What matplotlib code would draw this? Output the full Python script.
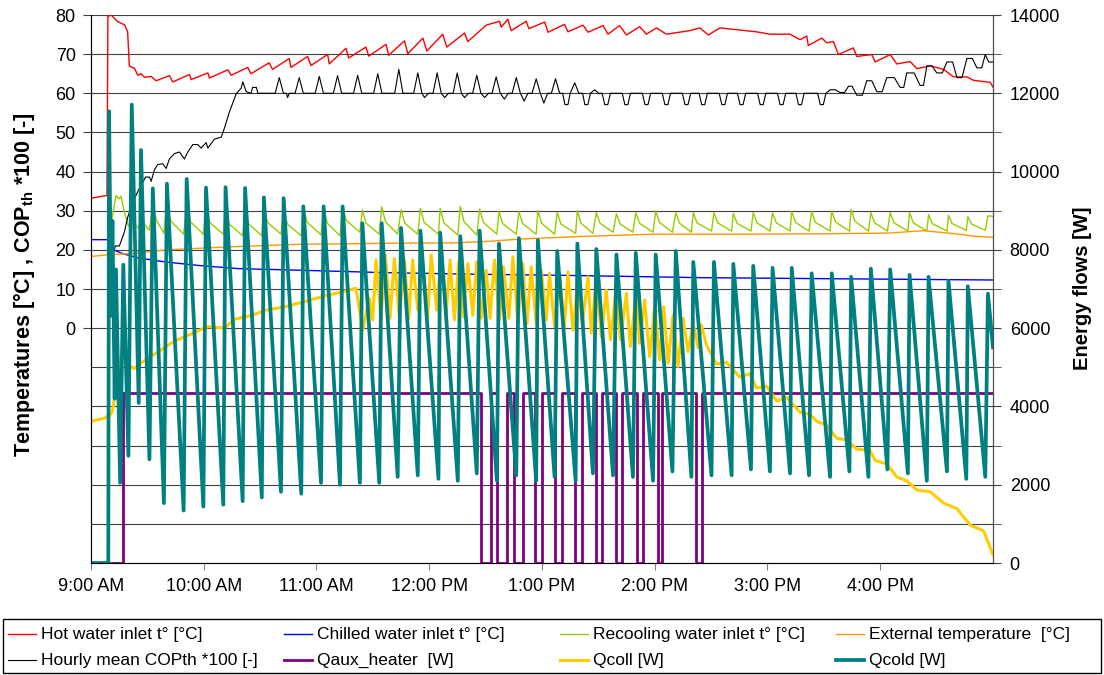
import matplotlib.pyplot as plt
from matplotlib.lines import Line2D
from matplotlib.patches import Rectangle

plt.rcParams['font.family'] = ['Liberation Sans', 'DejaVu Sans']
plt.rcParams['mathtext.fontset'] = 'custom'
plt.rcParams['mathtext.rm'] = 'Liberation Sans'
plt.rcParams['mathtext.bf'] = 'Liberation Sans:bold'

# all times are minutes after 9:00 AM

# Hot water inlet t° [°C]
hot_t = [0, 8.5, 9.0, 10.7, 14.2, 17.8, 19.5, 20.4, 23.1, 24.9,
         26.6, 28.4, 32.0, 34.6, 41.7, 43.5, 52.4, 53.3, 62.2, 63.0,
         72.8, 74.6, 83.4, 85.1, 94.8, 96.6, 105.5, 106.4, 115.3, 117.0,
         125.9, 126.8, 135.7, 137.1, 146.3, 147.8, 157.0, 158.4, 166.8, 168.6,
         176.6, 178.7, 187.2, 189.3, 198.8, 200.5, 210.3, 217.4, 218.3, 221.8,
         223.6, 231.6, 233.0, 241.4, 243.2, 252.0, 253.8, 261.8, 264.5, 272.5,
         275.1, 281.3, 284.9, 292.0, 295.6, 300.9, 306.2, 318.6, 324.0, 328.5,
         334.7, 354.2, 361.3, 372.0, 377.3, 380.9, 381.7, 388.9, 391.5, 395.1,
         397.7, 405.7, 407.5, 415.5, 417.3, 425.3, 428.8, 435.9, 439.5, 446.6,
         453.7, 459.0, 466.1, 469.7, 478.5, 480.0]
hot_v = [33.2, 33.9, 79.6, 80.0, 78.3, 77.5, 75.7, 66.9, 66.4, 64.6,
         65.0, 64.1, 64.3, 63.2, 64.5, 62.9, 64.8, 63.5, 65.2, 63.9,
         66.0, 64.6, 66.6, 65.0, 67.8, 66.1, 68.9, 66.6, 69.4, 67.1,
         69.9, 67.5, 71.5, 69.0, 71.8, 69.5, 72.5, 69.7, 73.4, 70.1,
         74.1, 70.8, 75.1, 71.8, 75.4, 73.2, 77.4, 78.4, 76.9, 78.9,
         76.0, 78.4, 76.5, 78.2, 75.6, 77.6, 75.7, 77.4, 75.6, 77.3,
         75.1, 77.3, 74.9, 77.0, 75.1, 76.7, 75.1, 76.0, 76.7, 74.9,
         76.7, 75.7, 75.1, 75.1, 73.7, 74.6, 72.2, 74.1, 72.9, 73.2,
         69.9, 71.6, 69.4, 69.9, 68.0, 69.9, 67.5, 68.1, 66.3, 67.0,
         66.1, 64.2, 64.2, 63.3, 62.8, 61.6]

# Chilled water inlet t° [°C]
chill_t = [0, 9.0, 9.5, 13.0, 17.0, 25.6, 39.8, 57.5, 78.8, 110.8, 155.0, 200.0, 250.0, 324.0, 400.0, 480.0]
chill_v = [22.6, 22.6, 20.5, 19.8, 19.0, 17.9, 16.9, 16.0, 15.2, 14.8, 14.2, 13.8, 13.5, 12.9, 12.6, 12.3]

# External temperature [°C]
ext_t = [0, 10, 20, 40, 75, 110, 160, 195, 212, 230, 265, 300, 340, 390, 425, 443, 460, 470, 480]
ext_v = [18.3, 18.8, 19.0, 20.0, 20.8, 21.4, 21.7, 21.8, 22.2, 22.8, 23.5, 24.0, 24.0, 24.1, 24.3, 24.9, 24.1, 23.5, 23.2]

# Hourly mean COPth *100 [-]
cop_t = [12.4, 13.0, 15.1, 17.8, 19.5, 22.2, 24.9, 27.5, 29.0, 31.1,
         32.0, 33.7, 35.5, 38.2, 40.0, 41.7, 44.4, 47.1, 49.7, 51.5,
         54.2, 56.8, 58.6, 61.3, 62.2, 65.7, 69.3, 71.0, 73.7, 77.3,
         79.9, 80.8, 82.6, 85.2, 86.0, 88.0, 88.8,
         98.0, 100.2, 102.4, 104.0, 104.6, 105.5, 108.6, 110.8, 113.0, 119.3,
         121.5, 123.7, 129.0, 131.2, 133.4, 139.7, 141.9, 144.1, 150.4, 152.6,
         154.8, 161.6, 163.8, 166.0, 171.7, 173.9, 176.1, 177.5, 179.5, 182.0,
         184.2, 186.4, 188.2, 190.2, 192.7, 194.9, 197.1, 198.8, 200.8, 203.1,
         205.3, 207.5, 209.5, 211.5, 213.4, 215.6, 217.8, 220.0, 222.0, 224.1,
         226.3, 228.5, 230.5, 232.5, 234.7, 236.9, 239.1, 241.0, 243.0, 245.0,
         247.2, 249.4,
         251.0, 252.2, 253.8, 255.0, 257.4, 259.6, 261.6, 262.8, 264.4, 265.8,
         268.0, 270.2, 272.0, 273.4, 275.0, 276.4, 282.7, 284.1, 285.7, 287.1,
         293.4, 294.8, 296.4, 297.8, 304.0, 305.4, 307.0, 308.4, 314.7, 316.1,
         317.7, 319.1, 323.6, 325.0, 326.6, 328.0, 334.3, 335.7, 337.3, 338.7,
         344.0, 345.4, 347.0, 348.4, 354.7, 356.1, 357.7, 359.1, 365.3, 366.7,
         368.3, 369.7, 375.1, 376.5, 378.1, 379.5, 386.7, 388.1, 389.7, 391.1,
         393.3, 396.0, 398.6, 401.0, 403.1, 405.0, 407.5, 410.5, 412.8, 415.5,
         418.2, 421.0, 423.5, 427.5, 430.6, 432.5, 434.1, 438.0, 441.2, 443.0,
         444.8, 447.5, 450.1, 453.0, 455.5, 458.5, 460.8, 463.5, 466.1, 469.0,
         471.4, 474.0, 475.9, 477.7, 480.0]
cop_v = [20.0, 21.0, 21.0, 24.6, 28.3, 32.1, 34.9, 37.2, 38.6, 38.6,
         37.5, 40.4, 41.8, 42.0, 40.8, 43.2, 44.6, 45.0, 43.2, 45.0,
         46.9, 46.9, 46.0, 47.4, 46.0, 48.3, 48.8, 51.1, 55.3, 59.9,
         61.3, 62.9, 60.4, 60.0, 61.5, 61.5, 60.0,
         60.0, 64.0, 60.0, 60.0, 58.9, 60.0, 60.0, 64.0, 60.0, 60.0,
         64.3, 60.0, 60.0, 64.5, 60.0, 60.0, 64.6, 60.0, 60.0, 65.0,
         60.0, 60.0, 66.1, 60.0, 60.0, 65.2, 60.0, 58.9, 60.0, 60.0,
         65.2, 60.0, 58.9, 60.0, 60.0, 65.2, 60.0, 58.9, 60.0, 60.0,
         64.6, 60.0, 58.9, 60.0, 60.0, 64.2, 60.0, 58.5, 60.0, 60.0,
         64.0, 60.0, 58.0, 60.0, 60.0, 63.7, 60.0, 57.5, 60.0, 60.0,
         63.7, 60.0,
         60.0, 57.1, 57.1, 60.0, 62.7, 60.0, 60.0, 57.1, 57.1, 60.0,
         60.9, 60.0, 60.0, 57.1, 57.1, 60.0, 60.0, 57.1, 57.1, 60.0,
         60.0, 57.1, 57.1, 60.0, 60.0, 57.1, 57.1, 60.0, 60.0, 57.1,
         57.1, 60.0, 60.0, 57.1, 57.1, 60.0, 60.0, 57.1, 57.1, 60.0,
         60.0, 57.1, 57.1, 60.0, 60.0, 57.1, 57.1, 60.0, 60.0, 57.1,
         57.1, 60.0, 60.0, 57.1, 57.1, 60.0, 60.0, 57.1, 57.1, 60.0,
         60.9, 60.9, 60.2, 60.2, 61.8, 61.8, 59.5, 59.5, 63.2, 63.2,
         60.4, 60.4, 64.0, 64.0, 61.5, 61.5, 65.2, 65.2, 62.0, 62.0,
         67.0, 67.0, 65.2, 65.2, 68.0, 68.0, 64.0, 64.0, 68.9, 68.9,
         66.5, 66.5, 69.9, 68.0, 68.0]

# Qcold [W]: start-up, then one peak and the following low point per cycle
cold_start_t = [0, 9.2, 9.6, 10.7, 11.4, 12.6, 13.3, 15.5, 17.2, 19.9]
cold_start_w = [0, 0, 11540, 6320, 8740, 4200, 7500, 2050, 7620, 2740]
cold_peak_t = [21.7, 26.6, 32.9, 40.4, 50.9, 61.2, 71.6, 82.0, 92.0, 102.5,
               113.0, 123.8, 133.9, 144.4, 154.7, 165.0, 175.3, 185.8, 196.5, 206.8,
               217.1, 227.7, 237.8, 248.1, 258.8, 268.9, 279.6, 289.9, 300.5, 311.2,
               320.5, 331.5, 341.8, 352.4, 362.7, 372.9, 383.5, 394.2, 404.5, 415.0,
               425.3, 435.6, 445.7, 456.3, 466.6, 477.3]
cold_peak_w = [11710, 10550, 9570, 9690, 9810, 9590, 9600, 9580, 9340, 9320,
               9110, 9110, 9110, 8680, 8680, 8560, 8490, 8440, 8350, 8490,
               8160, 8300, 8250, 7970, 8160, 8020, 7880, 7920, 7880, 7970,
               7690, 7690, 7640, 7590, 7540, 7540, 7400, 7400, 7310, 7520,
               7500, 7360, 7310, 7210, 7070, 6880]
cold_low_t = [25.4, 31.1, 38.8, 49.3, 59.8, 70.4, 80.7, 90.9, 101.1, 111.9,
              122.4, 132.5, 143.1, 153.4, 163.2, 173.9, 184.9, 195.2, 205.3, 216.0,
              226.3, 236.9, 246.7, 257.9, 267.1, 277.8, 288.4, 299.1, 309.4, 319.5,
              330.2, 340.9, 351.2, 361.3, 372.0, 382.1, 393.3, 403.6, 413.7, 423.8,
              434.7, 444.8, 455.5, 465.8, 475.9, 480.0]
cold_low_w = [4090, 2650, 1530, 1340, 1440, 1490, 1580, 1675, 1820, 1770,
              2050, 2000, 2050, 2050, 2200, 2240, 2150, 2100, 2290, 2100,
              2240, 2100, 2200, 2100, 2290, 2240, 2200, 2100, 2340, 2200,
              2240, 2240, 2390, 2340, 2290, 2240, 2200, 2340, 2200, 2390,
              2290, 2100, 2340, 2150, 2200, 5510]

# Recooling water inlet t° [°C]: peaks with the Qcold cycles, bends ~2 min later
rec_start_t = [11.0, 13.3, 15.0, 16.0, 17.5, 20.0]
rec_start_v = [27.5, 33.9, 33.0, 33.7, 30.0, 26.0]
rec_peak = [27.0, 28.0, 31.6, 31.6, 31.1, 30.6, 30.2, 30.2, 30.6, 30.2,
            31.0, 30.6, 31.0, 30.2, 31.0, 30.2, 30.6, 30.6, 31.1, 30.4,
            29.8, 29.8, 30.0, 29.5, 30.0, 29.5, 29.2, 29.5, 30.0, 29.5,
            29.5, 29.5, 29.3, 29.5, 29.4, 29.8, 29.8, 30.0, 30.3, 29.5,
            29.5, 29.5, 29.0, 28.8, 28.5, 28.7]
rec_bend_t = [23.7, 28.6, 34.9, 42.4, 52.9, 63.2, 73.6, 84.0, 94.0, 104.5,
              115.0, 125.8, 135.9, 146.4, 156.7, 167.0, 177.3, 187.8, 198.5, 208.8,
              219.1, 229.7, 239.8, 250.1, 260.8, 270.9, 281.6, 291.9, 302.5, 313.2,
              322.5, 333.5, 343.8, 354.4, 364.7, 374.9, 385.5, 396.2, 406.5, 417.0,
              427.3, 437.6, 447.7, 458.3, 468.6, 479.3]
rec_bend = [26.2, 26.5, 27.5, 27.4, 27.2, 27.0, 26.6, 26.6, 27.0, 26.6,
            27.1, 26.8, 27.5, 26.8, 27.2, 26.8, 27.0, 26.9, 27.2, 27.0,
            26.7, 26.7, 26.8, 26.6, 26.8, 26.8, 26.6, 26.8, 27.0, 26.8,
            26.9, 26.9, 26.8, 26.9, 26.9, 27.0, 27.0, 27.1, 27.3, 26.9,
            26.9, 26.9, 26.7, 26.7, 26.6, 28.6]
rec_low = [25.5, 25.0, 24.2, 24.0, 24.0, 24.0, 23.6, 23.6, 24.0, 23.6,
           23.8, 23.6, 24.5, 24.0, 24.0, 24.0, 24.0, 23.8, 23.8, 24.0,
           24.0, 24.0, 24.0, 24.2, 24.2, 24.5, 24.5, 24.5, 24.5, 24.5,
           24.8, 24.8, 24.8, 24.8, 24.8, 24.8, 24.8, 24.8, 24.8, 24.8,
           24.8, 24.8, 24.8, 25.0, 25.0, 28.5]

# Qcoll [W]
coll_t = [0, 7.1, 10.7, 11.5, 13.5, 16.9, 19.5, 23.1, 26.6, 35.5,
          44.4, 53.3, 62.2, 71.0, 76.4, 85.2, 93.1, 103.7, 114.4, 125.0,
          133.9, 141.0, 144.6, 148.1, 149.9, 151.7, 154.3, 156.7, 159.1, 161.5,
          164.1, 166.8, 169.1, 171.2, 173.9, 176.5, 179.2, 181.0, 184.0, 186.3,
          189.0, 191.1, 193.4, 195.7, 198.2, 200.5, 203.2, 205.3, 207.6, 210.3,
          212.4, 214.7, 217.4, 219.5, 222.4, 224.5, 227.2, 229.8, 232.0, 234.3,
          236.9, 239.6, 242.3, 244.0, 246.7, 249.4, 252.0, 253.8, 256.5, 259.1,
          261.4, 264.5, 266.2, 268.9, 271.6, 274.2, 276.4, 279.6, 281.7, 284.9,
          287.0, 289.9, 292.0, 294.6, 297.3, 300.0, 302.6, 304.8, 307.1, 309.7,
          312.4, 315.1, 317.7, 320.4, 323.1, 324.8, 327.6, 332.9, 338.2, 345.3,
          350.7, 354.2, 359.5, 364.9, 370.2, 377.3, 382.6, 386.2, 391.5, 396.8,
          402.2, 407.5, 414.6, 417.3, 423.5, 428.8, 434.1, 439.5, 446.6, 453.7,
          460.8, 467.9, 475.0, 480.0]
coll_w = [3620, 3700, 3810, 3900, 4600, 5480, 5050, 4970, 5110, 5390,
          5670, 5850, 6040, 6000, 6230, 6320, 6460, 6550, 6690, 6830,
          6930, 7020, 5950, 6760, 6210, 7740, 6210, 7870, 6250, 7780,
          6250, 7740, 6250, 7740, 6460, 7740, 6290, 7870, 6460, 7740,
          6380, 7740, 6210, 7700, 6290, 7650, 6330, 7700, 6250, 7480,
          6250, 7740, 6210, 7570, 6250, 7820, 6120, 7650, 6120, 7570,
          6120, 7480, 6210, 7400, 6040, 7360, 6040, 7440, 5950, 7230,
          6080, 7310, 5870, 7230, 5780, 6970, 5700, 7060, 5700, 6890,
          5530, 6800, 5610, 6720, 5270, 6590, 5190, 6550, 5100, 6330,
          5020, 6250, 5400, 6120, 5500, 6080, 5560, 5080, 5130, 4750,
          4840, 4470, 4520, 4140, 4230, 3850, 3800, 3620, 3520, 3190,
          3140, 2910, 2870, 2620, 2530, 2200, 2100, 1865, 1820, 1530,
          1390, 965, 820, 210]

# Qaux_heater [W], on/off switching times
aux_t = [0, 16.8, 207.3, 212.6, 216.1, 221.2, 224.9, 229.8, 236.1, 239.8,
         247.0, 250.7, 257.7, 261.4, 268.8, 271.8, 279.2, 282.4, 290.7, 293.6,
         301.9, 304.1, 322.2, 325.1, 480.0]
aux_w = [0, 4350, 0, 4350, 0, 4350, 0, 4350, 0, 4350,
         0, 4350, 0, 4350, 0, 4350, 0, 4350, 0, 4350,
         0, 4350, 0, 4350, 4350]

hour_labels = ['9:00 AM', '10:00 AM', '11:00 AM', '12:00 PM',
               '1:00 PM', '2:00 PM', '3:00 PM', '4:00 PM']


def hours(minutes):
    return [9 + m / 60 for m in minutes]


cold_t, cold_w = list(cold_start_t), list(cold_start_w)
for pt, pw, lt, lw in zip(cold_peak_t, cold_peak_w, cold_low_t, cold_low_w):
    cold_t += [pt, lt]
    cold_w += [pw, lw]

rec_t, rec_v = list(rec_start_t), list(rec_start_v)
for pt, pv, bt, bv, lt, lv in zip(cold_peak_t, rec_peak, rec_bend_t, rec_bend, cold_low_t, rec_low):
    rec_t += [pt, bt, lt]
    rec_v += [pv, bv, lv]

RED, BLUE, GREEN, ORANGE = '#ff0000', '#0000ff', '#99cc00', '#ff9900'
PURPLE, YELLOW, TEAL = '#800080', '#ffcc00', '#008080'

W, H = 1104, 675
fig = plt.figure(figsize=(W / 100, H / 100), dpi=100)
ax = fig.add_axes([91 / W, 1 - 563 / H, (993 - 91) / W, (563 - 15) / H])
ax2 = ax.twinx()

ax.plot(hours(hot_t), hot_v, color=RED, lw=1.0)
ax.plot(hours(chill_t), chill_v, color=BLUE, lw=1.0)
ax.plot(hours(rec_t), rec_v, color=GREEN, lw=1.0)
ax.plot(hours(ext_t), ext_v, color=ORANGE, lw=1.0)
ax.plot(hours(cop_t), cop_v, color='black', lw=0.8)

ax2.plot(hours(aux_t), aux_w, color=PURPLE, lw=2.0, drawstyle='steps-post')
ax2.plot(hours(coll_t), coll_w, color=YELLOW, lw=2.2)
ax2.plot(hours(cold_t), cold_w, color=TEAL, lw=2.7)

ax.set_xlim(9, 17)
ax.set_xticks(range(9, 17))
ax.set_xticklabels(hour_labels)
ax.set_ylim(-60, 80)
ax.set_yticks(range(0, 81, 10))
ax.set_yticks(range(-60, 0, 10), minor=True)
ax.grid(axis='y', which='both', color='#404040', lw=0.8)
ax.set_axisbelow(True)
ax.tick_params(axis='y', which='major', length=6, color='#404040', pad=5, labelsize=13)
ax.tick_params(axis='y', which='minor', length=0)
ax.tick_params(axis='x', length=5, color='#808080', pad=6, labelsize=13)

ax2.set_ylim(0, 14000)
ax2.set_yticks(range(0, 14001, 2000))
ax2.set_yticks(range(1000, 14000, 2000), minor=True)
ax2.tick_params(axis='y', which='both', length=6, color='#404040', pad=6, labelsize=13)

ax.spines['top'].set_visible(False)
ax2.spines['top'].set_visible(False)
ax.spines['bottom'].set_color('#808080')
ax.spines['left'].set_color('#505050')
ax2.spines['right'].set_color('#505050')

fig.text(24 / W, 1 - 285 / H, 'Temperatures [°C] , COP$_{\\mathbf{th}}$ *100 [-]',
         rotation=90, ha='center', va='center', fontsize=15.5, fontweight='bold')
fig.text(1082 / W, 1 - 288 / H, 'Energy flows [W]',
         rotation=90, ha='center', va='center', fontsize=14.5, fontweight='bold')

# legend laid out like the spreadsheet one: 4 equal columns, 2 rows
legend_items = [('Hot water inlet t° [°C]', RED, 1.0),
                ('Chilled water inlet t° [°C]', BLUE, 1.0),
                ('Recooling water inlet t° [°C]', GREEN, 1.0),
                ('External temperature  [°C]', ORANGE, 1.0),
                ('Hourly mean COPth *100 [-]', 'black', 0.8),
                ('Qaux_heater  [W]', PURPLE, 2.0),
                ('Qcoll [W]', YELLOW, 2.2),
                ('Qcold [W]', TEAL, 2.7)]
for i, (label, color, width) in enumerate(legend_items):
    row, col = divmod(i, 4)
    x0 = 8 + 276 * col
    y = 1 - (634 + 26 * row) / H
    fig.add_artist(Line2D([x0 / W, (x0 + 28) / W], [y, y], color=color, lw=width))
    fig.text((x0 + 33) / W, y, label, ha='left', va='center', fontsize=12.5)
fig.add_artist(Rectangle((3 / W, 1 - 673 / H), 1098 / W, 54 / H,
                         fill=False, ec='black', lw=1.0))

fig.savefig('out.png', dpi=100)
